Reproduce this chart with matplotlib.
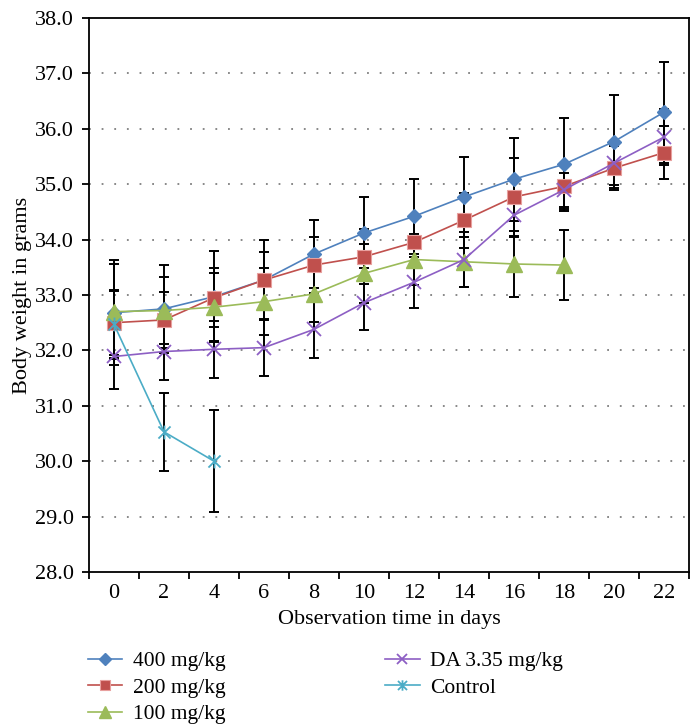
import matplotlib
matplotlib.use("Agg")
import matplotlib.pyplot as plt
from matplotlib.path import Path

days = [0, 2, 4, 6, 8, 10, 12, 14, 16, 18, 20, 22]
w400 = [32.68, 32.75, 32.97, 33.27, 33.74, 34.12, 34.42, 34.77, 35.09, 35.36, 35.77, 36.30]
e400 = [0.95, 0.80, 0.82, 0.72, 0.61, 0.64, 0.68, 0.72, 0.75, 0.84, 0.84, 0.91]
w200 = [32.50, 32.55, 32.95, 33.27, 33.54, 33.69, 33.95, 34.35, 34.77, 34.96, 35.29, 35.57]
e200 = [0.59, 0.51, 0.53, 0.51, 0.50, 0.50, 0.47, 0.50, 0.70, 0.40, 0.40, 0.48]
days100 = [0, 2, 4, 6, 8, 10, 12, 14, 16, 18]
w100 = [32.70, 32.72, 32.78, 32.88, 33.02, 33.39, 33.64, 33.60, 33.56, 33.54]
e100 = [0.86, 0.61, 0.61, 0.61, 0.50, 0.53, 0.46, 0.45, 0.59, 0.63]
wDA = [31.89, 31.98, 32.02, 32.05, 32.38, 32.86, 33.23, 33.64, 34.44, 34.90, 35.38, 35.85]
eDA = [0.59, 0.51, 0.51, 0.52, 0.51, 0.49, 0.46, 0.50, 0.40, 0.31, 0.40, 0.50]
daysC = [0, 2, 4]
wC = [32.47, 30.53, 30.00]
eC = [0.60, 0.70, 0.92]

labels = ["400 mg/kg", "200 mg/kg", "100 mg/kg", "DA 3.35 mg/kg", "Control"]
colors = ["#4F81BD", "#C0504D", "#9BBB59", "#8D5FC4", "#4BACC6"]

yticks = [28.0, 29.0, 30.0, 31.0, 32.0, 33.0, 34.0, 35.0, 36.0, 37.0, 38.0]

star = Path([(-1, -1), (1, 1), (-1, 1), (1, -1), (0, -1.15), (0, 1.15)],
            [Path.MOVETO, Path.LINETO, Path.MOVETO, Path.LINETO, Path.MOVETO, Path.LINETO])

plt.rcParams['font.family'] = ['Liberation Serif', 'DejaVu Serif']
plt.rcParams['font.size'] = 16

fig = plt.figure(figsize=(6.93, 7.27), dpi=100)
W, H = 693, 727
ax = fig.add_axes([89 / W, 1 - 572 / H, (689 - 89) / W, (572 - 18) / H])

series = [
    (days, w400, e400, dict(marker='D', ms=7.5, mec=colors[0])),
    (days, w200, e200, dict(marker='s', ms=10.5, mec='#E8A09E', mew=0.8)),
    (days100, w100, e100, dict(marker='^', ms=11.5, mec=colors[2])),
    (days, wDA, eDA, dict(marker='x', ms=10, mew=1.3)),
    (daysC, wC, eC, dict(marker=star, ms=10, mew=1.3)),
]

for i, (x, y, e, mk) in enumerate(series):
    ax.errorbar(x, y, yerr=e, fmt='none', ecolor='black', elinewidth=1.4,
                capsize=3.3, capthick=1.4, zorder=2)
for i, (x, y, e, mk) in enumerate(series):
    ax.plot(x, y, color=colors[i], lw=1.2, mfc=colors[i],
            label=labels[i], zorder=3 + i * 0.1, **mk)
    if 'mec' not in mk:
        ax.lines[-1].set_markeredgecolor(colors[i])

ax.set_xlim(-1, 23)
ax.set_ylim(28, 38)
ax.set_yticks(yticks)
ax.set_yticklabels([f"{v:.1f}" for v in yticks])
for v in yticks[1:-1]:
    ax.axhline(v, color='#7F7F7F', lw=1.3, ls=(0, (1, 6)), zorder=1)

ax.set_xticks([d + 1 for d in [-2] + days], minor=False)
ax.set_xticklabels([])
ax.set_xticks(days, minor=True)
ax.set_xticklabels([str(d) for d in days], minor=True)
ax.tick_params(axis='x', which='major', direction='out', length=5, width=1.3)
ax.tick_params(axis='x', which='minor', length=0, pad=9)
ax.tick_params(axis='y', direction='out', length=5, width=1.3, pad=6)
for s in ax.spines.values():
    s.set_linewidth(1.3)

ax.set_xlabel("Observation time in days", labelpad=5)
ax.set_ylabel("Body weight in grams", labelpad=2)

leg = fig.legend(loc='upper left', bbox_to_anchor=(88 / W, 1 - 651 / H),
                 ncol=2, frameon=False, handlelength=1.6, handletextpad=0.5,
                 columnspacing=7.4, labelspacing=0.3, borderpad=0,
                 borderaxespad=0, markerscale=0.75, fontsize=15.5)

fig.savefig("out.png", dpi=100)
